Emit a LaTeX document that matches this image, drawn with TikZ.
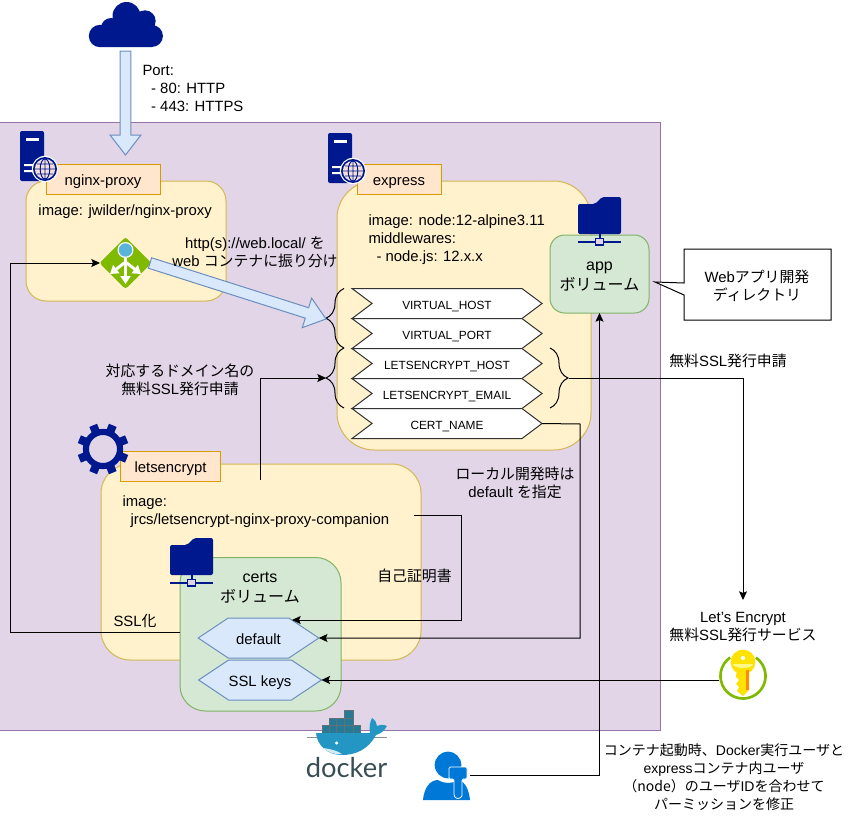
\documentclass[tikz,border=0pt]{standalone}
\usepackage{fontspec}
\setmainfont{Liberation Sans}
\newfontfamily\cjk{Noto Sans CJK JP}
\newfontfamily\logofont{Lato}
\usepackage{xcolor}
\usetikzlibrary{arrows.meta,positioning,calc,shapes.symbols,decorations.pathreplacing}
\definecolor{navyico}{HTML}{00188D}
\definecolor{lilacbg}{HTML}{E1D5E7}
\definecolor{lilacln}{HTML}{9673A6}
\definecolor{yelbg}{HTML}{FFF2CC}
\definecolor{yelln}{HTML}{D6B656}
\definecolor{orbg}{HTML}{FFE6CC}
\definecolor{orln}{HTML}{D79B00}
\definecolor{grnbg}{HTML}{D5E8D4}
\definecolor{grnln}{HTML}{82B366}
\definecolor{blubg}{HTML}{DAE8FC}
\definecolor{bluln}{HTML}{6C8EBF}
\definecolor{azgrn}{HTML}{7FBA00}
\definecolor{azblu}{HTML}{0078D7}
\definecolor{azglobe}{HTML}{59B4D9}
\definecolor{whale}{HTML}{2396C4}
\definecolor{crate}{HTML}{267A96}
\definecolor{dockgr}{HTML}{394D54}
\newcommand{\jp}[1]{{\cjk #1}}
\newcommand{\txtfont}{\fontsize{11.15}{13.5}\selectfont}
\newcommand{\volfont}{\fontsize{12}{15}\selectfont}
\newcommand{\blockarrow}[2]{%
  \coordinate (ba) at ($(#2)!15pt!(#1)$);
  \draw[blockarr] ($(#1)!4.1pt!90:(#2)$) -- ($(ba)!4.1pt!90:(#2)$) -- ($(ba)!11.6pt!90:(#2)$) -- (#2)
    -- ($(ba)!11.6pt!-90:(#2)$) -- ($(ba)!4.1pt!-90:(#2)$) -- ($(#1)!4.1pt!-90:(#2)$) -- cycle;}
\tikzset{
  serverico/.pic={
    \fill[navyico, rounded corners=1.5pt] (0,0) rectangle (24,50);
    \fill[white] (6,7) rectangle (19,9.5);
    \fill[white] (4,33) rectangle (18,35) (4,39) rectangle (18,41);
    \fill[white] (25,38) circle[radius=9.9pt];
    \fill[navyico] (25,38) circle[radius=9pt];
    \fill[orbg!60!lilacbg] (25,38) circle[radius=7.6pt];
    \draw[navyico, line width=.7pt] (25,38) ellipse[x radius=3.6pt, y radius=7.6pt]
      (25,28) -- (25,48) (15,38) -- (35,38) (17,33) -- (33,33) (17,43) -- (33,43);
  },
  folderico/.pic={
    \fill[navyico, rounded corners=1.5pt] (0,37) -- (0,7) -- (17,7) -- (24,0) -- (43,0) -- (43,37) -- cycle;
    \fill[navyico] (20.5,37) rectangle (22.5,41);
    \draw[navyico, line width=1.6pt] (0,45) -- (17.5,45) (25.5,45) -- (43,45);
    \draw[navyico, line width=1.3pt, fill=lilacbg] (17.5,41.5) rectangle (25.5,48);
  }
}
\begin{document}
\begin{tikzpicture}[
    x=.75pt, y=-.75pt, line width=.75pt,
    boxyellow/.style={draw=yelln, fill=yelbg, rounded corners=#1},
    boxyellow/.default=15pt,
    boxtab/.style={draw=orln, fill=orbg, font=\txtfont, inner sep=0pt, minimum height=22.5pt, text height=9.5pt, text depth=0pt},
    boxvol/.style={draw=grnln, fill=grnbg, rounded corners=#1},
    envkey/.style={signal, signal to=east, signal from=west, signal pointer angle=73.74, draw=black!80,
                   fill=white, inner sep=0pt, outer sep=0pt, minimum width=142.5pt, minimum height=22.5pt,
                   text height=9.3pt, text depth=0pt, font=\fontsize{8.9}{11}\selectfont},
    certkey/.style={signal, signal to=east and west, signal pointer angle=67.4, draw=bluln, fill=blubg,
                   inner sep=0pt, outer sep=0pt, minimum width=90.5pt, minimum height=30pt,
                   text height=9pt, text depth=0pt, font=\txtfont},
    txt/.style={align=center, inner sep=0pt, font=\txtfont},
    txtl/.style={align=left, inner sep=0pt, font=\txtfont, anchor=north west},
    voltxt/.style={align=center, inner sep=0pt, font=\volfont},
    conn/.style={-{Stealth[length=6.5pt,width=6pt,inset=1.2pt]}},
    blockarr/.style={draw=bluln, fill=blubg},
    bracket/.style={decorate, decoration={brace, amplitude=13.5pt, aspect=.5}}
  ]
    \useasboundingbox (0,0) rectangle (851,821);
    \draw[draw=lilacln, fill=lilacbg] (-.5,122) rectangle (660.5,730);

    \fill[navyico] (100,36) circle[radius=8.4pt] (111,28) circle[radius=7.5pt] (126.5,16) circle[radius=10.5pt]
      (145,21) circle[radius=8pt] (152,36) circle[radius=8.2pt] (100,30) rectangle (152,47.2) (110,22) rectangle (145,36);

    \draw[boxyellow] (26,181) rectangle (226,301);
    \draw[boxyellow=28pt] (337,181) rectangle (591,450);
    \draw[boxyellow=22pt] (101,464) rectangle (421,660);

    \node[boxtab, minimum width=85.5pt] (nginxtab) at (103,179) {nginx-proxy};
    \node[boxtab, minimum width=63pt] (exptab) at (399,179) {express};
    \node[boxtab, minimum width=75pt] (letab) at (170.5,466) {letsencrypt};

    \pic at (20,131) {serverico};
    \pic at (328,133) {serverico};

    \foreach \a in {22.5,67.5,...,337.5} {
      \draw[navyico, line width=6.2pt] (103,449) ++(\a:12.5pt) -- ++(\a:6.7pt);
    }
    \draw[navyico, line width=4.6pt] (103,449) circle[radius=12.8pt];

    \node[txtl] (nginximg) at (38,204) {image: jwilder/nginx-proxy};
    \node[txtl] (expimg) at (368,214) {image: node:12-alpine3.11\\middlewares:\\\hspace*{6pt}- node.js: 12.x.x};
    \node[txtl] (leimg) at (122,495) {image:\\\hspace*{6pt}jrcs/letsencrypt-nginx-proxy-companion};
    \node[txtl] (porttxt) at (142,65) {Port:\\\hspace*{6.5pt}- 80: HTTP\\\hspace*{6.5pt}- 443: HTTPS};

    \node[envkey] (vhost) at (447,303.5) {VIRTUAL\_HOST};
    \node[envkey, below=0pt of vhost] (vport) {VIRTUAL\_PORT};
    \node[envkey, below=0pt of vport] (lehost) {LETSENCRYPT\_HOST};
    \node[envkey, below=0pt of lehost] (lemail) {LETSENCRYPT\_EMAIL};
    \node[envkey, below=0pt of lemail] (certname) {CERT\_NAME};

    \draw[bracket] (344,348) -- (344,288.5);
    \draw[bracket] (344,408) -- (344,348);
    \draw[bracket] (550,348) -- (550,408);
    \coordinate (brvirt) at (326,319);
    \coordinate (brcert) at (326,378);
    \coordinate (brreq) at (569,378);

    \draw[boxvol=11pt] (550,235) rectangle (649,313);
    \coordinate (appvol) at (599.5,313);
    \pic at (578,197) {folderico};
    \node[voltxt] (apptxt) at (599.5,277) {app\\\jp{ボリューム}};

    \draw[boxvol=19pt] (180,557.5) rectangle (341,711);
    \pic at (170,538) {folderico};
    \node[voltxt] (certstxt) at (260,588) {certs\\\jp{ボリューム}};
    \node[certkey] (defcert) at (258.5,638) {default};
    \node[certkey] (sslkeys) at (260,680) {SSL keys};
    \coordinate (certsw) at (180,632);
    \coordinate (defup) at (292,620);

    \blockarrow{125.5,51}{125.5,155}

    \fill[azgrn, rounded corners=2pt] (125.5,237) -- (151.5,263) -- (125.5,289) -- (99.5,263) -- cycle;
    \fill[white] (125.5,250) circle[radius=6pt];
    \fill[azglobe] (125.5,250) circle[radius=5pt];
    \draw[white, line width=2.2pt, -{Triangle[length=6pt,width=7.5pt]}] (125.5,258) -- (125.5,284);
    \draw[white, line width=2.2pt, -{Triangle[length=6pt,width=7.5pt]}] (125.5,262) -- (110,274);
    \draw[white, line width=2.2pt, -{Triangle[length=6pt,width=7.5pt]}] (125.5,262) -- (141,274);
    \coordinate (lbin) at (100,263);
    \coordinate (lbout) at (150,263);

    \blockarrow{lbout}{brvirt}
    \node[txt] (routetxt) at (255,252) {http(s)://web.local/ \jp{を}\\web \jp{コンテナに振り分け}};

    \draw[conn] (certsw) -- (10,632) -- (10,263) -- (lbin);
    \coordinate (lereq) at (260,480);
    \draw[conn] (lereq) -- (260,378) -- (brcert);
    \coordinate (leself) at (414,515);
    \draw[conn] (leself) -- (461,515) -- (461,620) -- (defup);
    \draw[conn] (certname.east) -- (580,424) -- (580,638) -- (defcert.east);

    \node[txt] (sslreqtxt) at (180,380) {\jp{対応するドメイン名の}\\\jp{無料}SSL\jp{発行申請}};
    \node[txt] (localtxt) at (515,482.5) {\jp{ローカル開発時は}\\default \jp{を指定}};
    \node[txt] (selftxt) at (414.5,575.5) {\jp{自己証明書}};
    \node[txt] (ssltxt) at (135,620.5) {SSL\jp{化}};
    \node[txt] (freetxt) at (728,361) {\jp{無料}SSL\jp{発行申請}};
    \node[txt] (lesvc) at (743,627.5) {Let's Encrypt\\\jp{無料}SSL\jp{発行サービス}};

    \draw[fill=white] (684,249) -- (831,249) -- (831,320) -- (684,320) -- (684,295) -- (655,282) -- (684,283) -- cycle;
    \node[txt] (devtxt) at (757,286) {Web\jp{アプリ開発}\\\jp{ディレクトリ}};

    \draw[azgrn, line width=2pt] ([shift={(125:16.9pt)}]743,676) arc[start angle=125, end angle=415, radius=16.9pt];
    \fill[yellow!85!orange] (743,662) circle[radius=9.3pt];
    \fill[yellow!85!orange] (737,668) -- (749,668) -- (749,690) -- (743,696) -- (737,691) -- (739,687) -- (736,684) -- (739,680) -- (736,677) -- cycle;
    \fill[orange!90!yellow] (746,670) rectangle (749,690);
    \fill[yellow!45!white] (733,664) -- (753,664) arc[start angle=0, end angle=-180, x radius=7.5pt, y radius=3pt] -- cycle;
    \fill[white] (743,658) circle[radius=1.6pt];
    \coordinate (keyico) at (719,680);
    \draw[conn] (brreq) -- (743,378) -- (743,600);
    \draw[conn] (keyico) -- (sslkeys.east);

    \fill[azblu] (448,765) circle[radius=10pt];
    \fill[azblu] (423,800) .. controls (424,788) and (430,780) .. (438,780) .. controls (445,784) and (452,784) .. (458,780)
      .. controls (465,781) and (469,790) .. (470,800) -- cycle;
    \draw[white, fill=azblu, line width=.6pt, rounded corners=1pt] (449,767) -- (467,767) -- (467,779) -- (462,779) -- (462,797) -- (457,799) -- (454,796) -- (454,779) -- (449,779) -- cycle;
    \coordinate (userico) at (470,775);
    \draw[conn] (userico) -- (599.5,775) -- (appvol);

    \fill[crate] (344,710) rectangle (353,718);
    \fill[crate] (329,718) rectangle (353,725.5);
    \fill[crate] (322,725.5) rectangle (360,733);
    \draw[dockgr!80, line width=.5pt] (344,710) rectangle (353,718) (329,718) rectangle (353,725.5)
      (322,725.5) rectangle (360,733) (336,718) -- (336,733) (344,718) -- (344,733) (329,725.5) -- (329,733) (353,725.5) -- (353,733);
    \draw[black!45, line width=.5pt] (307,737) -- (387,737);
    \fill[whale] (316,733) -- (370,733) .. controls (369,727) and (370,722) .. (372,718) .. controls (375,720) and (377,723) .. (377,726)
      .. controls (381,724) and (385,725) .. (387,726) .. controls (384,732) and (379,734) .. (376,735)
      .. controls (368,750) and (355,755) .. (342,755) .. controls (327,755) and (317,745) .. (316,733) -- cycle;
    \fill[white!80!whale] (323,748) .. controls (331,749) and (338,751) .. (342,754) .. controls (334,755) and (328,752) .. (323,748) -- cycle;
    \fill[white] (336.7,743) circle[radius=1.3pt];
    \node[inner sep=0pt, font=\logofont\fontsize{20.5}{24}\selectfont, text=dockgr] (dockertxt) at (346.5,768) {docker};

    \node[txt, font=\fontsize{10.5}{13.5}\selectfont] (permtxt) at (724,777.5) {\jp{コンテナ起動時、}Docker\jp{実行ユーザと}\\express\jp{コンテナ内ユーザ}\\\jp{（node）のユーザ}ID\jp{を合わせて}\\\jp{パーミッションを修正}};
  \end{tikzpicture}
\end{document}
